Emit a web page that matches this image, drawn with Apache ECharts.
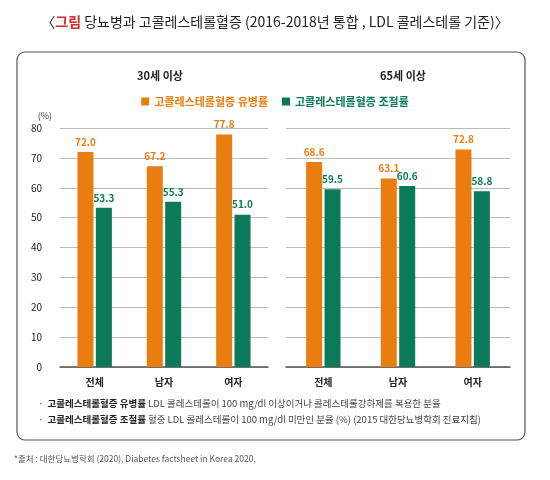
<!DOCTYPE html>
<html><head><meta charset="utf-8">
<script src="https://cdn.jsdelivr.net/npm/echarts@6/dist/echarts.min.js"></script>
<style>body{margin:0;background:#fff}#c{width:550px;height:480px}</style>
</head><body><div id="c"></div>
<script>
var categories = ['전체', '남자', '여자'];
var prev30 = [72.0, 67.2, 77.8];
var ctrl30 = [53.3, 55.3, 51.0];
var prev65 = [68.6, 63.1, 72.8];
var ctrl65 = [59.5, 60.6, 58.8];
var yTicks = [0, 10, 20, 30, 40, 50, 60, 70, 80];

var ORANGE = '#E97D10', GREEN = '#0B7A5A';
var F = '"Noto Sans CJK KR", sans-serif';
var chart = echarts.init(document.getElementById('c'));

function xAx(i) {
  return { type: 'category', gridIndex: i, data: categories,
    axisLine: { lineStyle: { color: '#555', width: 1.5 } }, axisTick: { show: false },
    axisLabel: { color: '#222', fontSize: 10, fontWeight: 'bold', fontFamily: F, margin: 10 } };
}
function yAx(i, show) {
  return { type: 'value', gridIndex: i, min: 0, max: 80, interval: 10,
    name: show ? '(%)' : '', nameGap: 8, nameTextStyle: { color: '#444', fontSize: 9, align: 'right', padding: [0, 8, 0, 0] },
    axisLine: { show: false }, axisTick: { show: false },
    axisLabel: { show: show, color: '#222', fontSize: 10, fontFamily: F, margin: 18 },
    splitLine: { lineStyle: { color: '#bbb', width: 1 } } };
}
function bar(name, data, color, i) {
  return { name: name, type: 'bar', xAxisIndex: i, yAxisIndex: i, data: data,
    barWidth: 16, barGap: '15%', itemStyle: { color: color },
    label: { show: true, position: 'top', color: color, fontSize: 10, fontWeight: 'bold', fontFamily: F,
      formatter: function (p) { return p.value.toFixed(1); } } };
}

chart.setOption({
  animation: false,
  textStyle: { fontFamily: F },
  title: [
    { text: '〈{r|그림} 당뇨병과 고콜레스테롤혈증 (2016-2018년 통합 , LDL 콜레스테롤 기준)〉', left: 'center', top: 10,
      textStyle: { fontSize: 14, fontWeight: 'normal', color: '#222', fontFamily: F,
        rich: { r: { color: '#D42A2A', fontSize: 14, fontWeight: 'bold', fontFamily: F } } } },
    { text: '30세 이상', left: 155, top: 65, textAlign: 'center', textStyle: { fontSize: 11, fontWeight: 'bold', color: '#222' } },
    { text: '65세 이상', left: 398, top: 65, textAlign: 'center', textStyle: { fontSize: 11, fontWeight: 'bold', color: '#222' } }
  ],
  legend: { top: 91, left: 'center', itemWidth: 8, itemHeight: 8, itemGap: 14, icon: 'rect',
    data: [{ name: '고콜레스테롤혈증 유병률', textStyle: { color: ORANGE } },
           { name: '고콜레스테롤혈증 조절률', textStyle: { color: GREEN } }],
    textStyle: { fontSize: 11, fontWeight: 'bold', fontFamily: F } },
  grid: [
    { left: 60, right: 282, top: 128, bottom: 113 },
    { left: 286, right: 40, top: 128, bottom: 113 }
  ],
  xAxis: [xAx(0), xAx(1)],
  yAxis: [yAx(0, true), yAx(1, false)],
  series: [
    bar('고콜레스테롤혈증 유병률', prev30, ORANGE, 0),
    bar('고콜레스테롤혈증 조절률', ctrl30, GREEN, 0),
    bar('고콜레스테롤혈증 유병률', prev65, ORANGE, 1),
    bar('고콜레스테롤혈증 조절률', ctrl65, GREEN, 1)
  ],
  graphic: [
    { type: 'rect', shape: { x: 17, y: 52, width: 508, height: 388, r: 8 }, z: -1,
      style: { fill: 'none', stroke: '#555', lineWidth: 1.2 } },
    { type: 'text', left: 38, top: 399, style: { text: '·  {b|고콜레스테롤혈증 유병률} LDL 콜레스테롤이 100 mg/dl 이상이거나 콜레스테롤강하제를 복용한 분율',
      fill: '#444', fontSize: 9.5, fontFamily: F, rich: { b: { fontWeight: 'bold', fill: '#222', fontSize: 9.5, fontFamily: F } } } },
    { type: 'text', left: 38, top: 415, style: { text: '·  {b|고콜레스테롤혈증 조절률} 혈중 LDL 콜레스테롤이 100 mg/dl 미만인 분율 (%) (2015 대한당뇨병학회 진료지침)',
      fill: '#444', fontSize: 9.5, fontFamily: F, rich: { b: { fontWeight: 'bold', fill: '#222', fontSize: 9.5, fontFamily: F } } } },
    { type: 'text', left: 14, top: 455, style: { text: '*출처 : 대한당뇨병학회 (2020), Diabetes factsheet in Korea 2020,', fill: '#555', fontSize: 8.5, fontFamily: F } }
  ]
});
</script></body></html>
